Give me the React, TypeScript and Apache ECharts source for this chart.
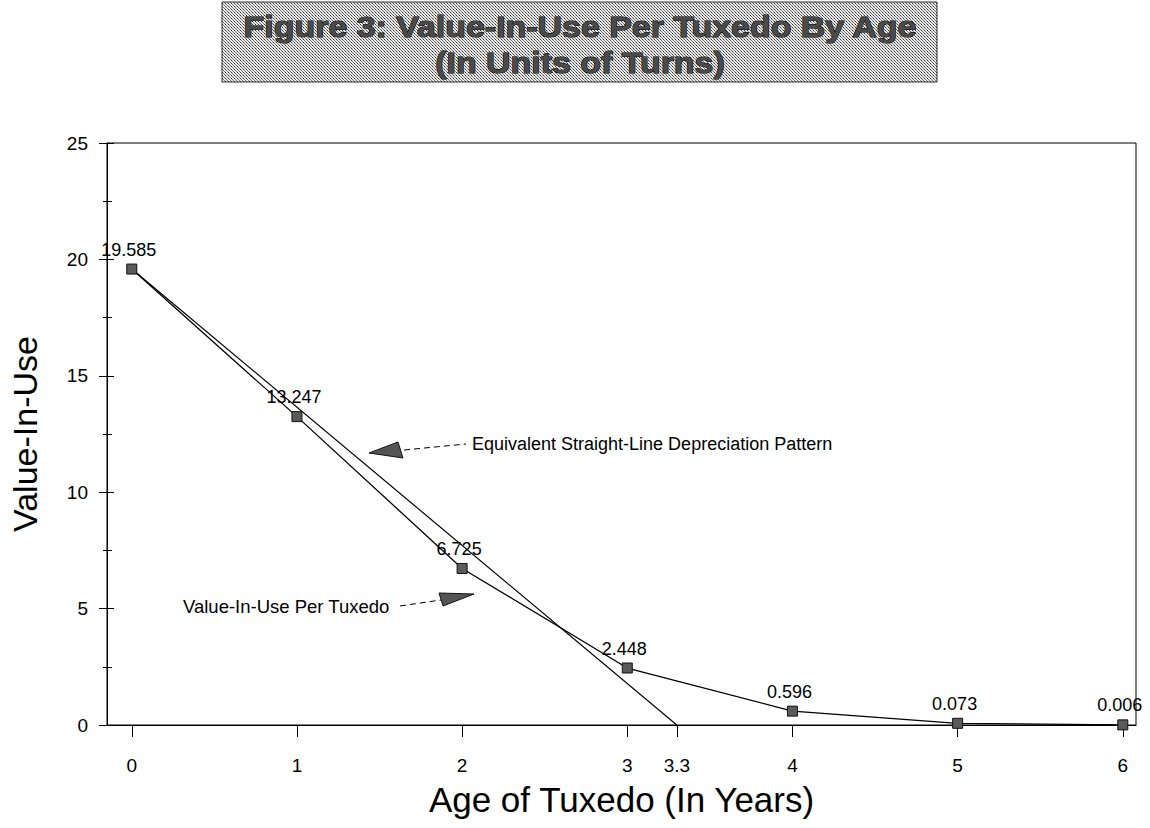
import React, { useEffect, useRef } from "react";
import * as echarts from "echarts";

const ages = [0, 1, 2, 3, 4, 5, 6];
const valueInUse = [19.585, 13.247, 6.725, 2.448, 0.596, 0.073, 0.006];
const straightLineAges = [0, 3.3];
const straightLineValues = [19.585, 0];
const xTickValues = [0, 1, 2, 3, 3.3, 4, 5, 6];
const titleLines = ["Figure 3: Value-In-Use Per Tuxedo By Age", "(In Units of Turns)"];
const xAxisName = "Age of Tuxedo (In Years)";
const yAxisName = "Value-In-Use";
const noteStraight = "Equivalent Straight-Line Depreciation Pattern";
const noteValue = "Value-In-Use Per Tuxedo";

const FONT = "Liberation Sans, Arial, sans-serif";

function makePattern(): string | null {
  try {
    const c = document.createElement("canvas");
    c.width = 3;
    c.height = 3;
    const ctx = c.getContext("2d");
    if (!ctx) return null;
    ctx.fillStyle = "#e8e8e8";
    ctx.fillRect(0, 0, 3, 3);
    ctx.fillStyle = "#333333";
    ctx.fillRect(0, 0, 1, 1);
    ctx.fillStyle = "#777777";
    ctx.fillRect(1, 1, 1, 1);
    ctx.fillRect(2, 2, 1, 1);
    return c.toDataURL();
  } catch (e) {
    return null;
  }
}

export default function App() {
  const ref = useRef<HTMLDivElement>(null);
  useEffect(() => {
    if (!ref.current) return;
    const chart = echarts.init(ref.current, null, { renderer: "svg" });
    const pat = makePattern();
    const boxFill: any = pat ? { image: pat, repeat: "repeat" } : "#c4c4c4";
    const axisLabelStyle = { color: "#000", fontSize: 19, fontFamily: FONT };
    const titleStyle = (text: string) => ({
      text,
      align: "center",
      verticalAlign: "middle",
      font: `bold 29px ${FONT}`,
      fill: "#4a4a4a",
      stroke: "#000",
      lineWidth: 1,
    });
    chart.setOption({
      animation: false,
      backgroundColor: "#fff",
      grid: {
        left: 107,
        top: 143,
        right: 14,
        bottom: 103,
        show: true,
        borderColor: "#000",
        borderWidth: 1,
        backgroundColor: "transparent",
      },
      xAxis: {
        type: "value",
        min: -0.15,
        max: 6.08,
        splitLine: { show: false },
        axisLine: { show: true, onZero: false, lineStyle: { color: "#000", width: 1 } },
        axisTick: {
          show: true,
          length: 12,
          customValues: xTickValues,
          lineStyle: { color: "#000", width: 1 },
        },
        axisLabel: {
          ...axisLabelStyle,
          margin: 31,
          customValues: xTickValues,
          formatter: (v: number) => String(v),
        },
        name: xAxisName,
        nameLocation: "middle",
        nameGap: 57,
        nameTextStyle: { color: "#000", fontSize: 35, fontFamily: FONT },
      },
      yAxis: [
        {
          type: "value",
          min: 0,
          max: 25,
          interval: 5,
          splitLine: { show: false },
          axisLine: { show: true, onZero: false, lineStyle: { color: "#000", width: 1 } },
          axisTick: { show: true, length: 8, lineStyle: { color: "#000" } },
          minorTick: { show: true, splitNumber: 2, length: 4, lineStyle: { color: "#000" } },
          axisLabel: { ...axisLabelStyle, margin: 19 },
          name: yAxisName,
          nameLocation: "middle",
          nameGap: 65,
          nameTextStyle: { color: "#000", fontSize: 34, fontFamily: FONT },
        },
        {
          type: "value",
          position: "left",
          offset: 0,
          min: 0,
          max: 25,
          interval: 5,
          splitLine: { show: false },
          axisLine: { show: false, onZero: false },
          axisTick: { show: true, inside: true, length: 7, lineStyle: { color: "#000" } },
          minorTick: { show: true, splitNumber: 2, length: 5, lineStyle: { color: "#000" } },
          axisLabel: { show: false },
        },
      ],
      series: [
        {
          type: "line",
          name: "Straight-Line",
          data: straightLineAges.map((a, i) => [a, straightLineValues[i]]),
          symbol: "none",
          lineStyle: { color: "#000", width: 1.2 },
          z: 2,
        },
        {
          type: "line",
          name: noteValue,
          data: ages.map((a, i) => [a, valueInUse[i]]),
          symbol: "rect",
          symbolSize: 10,
          itemStyle: { color: "#5a5a5a", borderColor: "#111", borderWidth: 1 },
          lineStyle: { color: "#000", width: 1.3 },
          label: {
            show: true,
            position: "top",
            distance: 5,
            offset: [-3, 0],
            color: "#000",
            fontSize: 18,
            fontFamily: FONT,
            formatter: (p: any) => valueInUse[p.dataIndex].toFixed(3),
          },
          z: 3,
        },
      ],
      graphic: [
        {
          type: "rect",
          shape: { x: 222, y: 2, width: 715, height: 80 },
          style: { fill: boxFill, stroke: "#333", lineWidth: 1 },
          z: 10,
        },
        { type: "text", x: 580, y: 27, scaleX: 1.17, style: titleStyle(titleLines[0]), z: 11 },
        { type: "text", x: 580, y: 63, scaleX: 1.17, style: titleStyle(titleLines[1]), z: 11 },
        {
          type: "polygon",
          shape: { points: [[369, 453], [398, 442], [403, 458]] },
          style: { fill: "#555", stroke: "#111", lineWidth: 1 },
          z: 11,
        },
        {
          type: "line",
          shape: { x1: 404, y1: 450, x2: 466, y2: 444 },
          style: { stroke: "#000", lineWidth: 1, lineDash: [6, 4] },
          z: 11,
        },
        {
          type: "text",
          x: 472,
          y: 444,
          style: {
            text: noteStraight,
            align: "left",
            verticalAlign: "middle",
            font: `18px ${FONT}`,
            fill: "#000",
          },
          z: 11,
        },
        {
          type: "text",
          x: 183,
          y: 606,
          style: {
            text: noteValue,
            align: "left",
            verticalAlign: "middle",
            font: `18.5px ${FONT}`,
            fill: "#000",
          },
          z: 11,
        },
        {
          type: "line",
          shape: { x1: 400, y1: 606, x2: 441, y2: 600 },
          style: { stroke: "#000", lineWidth: 1, lineDash: [6, 4] },
          z: 11,
        },
        {
          type: "polygon",
          shape: { points: [[474, 594], [439, 593], [443, 606]] },
          style: { fill: "#555", stroke: "#111", lineWidth: 1 },
          z: 11,
        },
      ],
    });
    return () => chart.dispose();
  }, []);
  return (
    <div
      ref={ref}
      style={{ position: "fixed", left: 0, top: 0, width: 1150, height: 828, background: "#fff" }}
    />
  );
}
